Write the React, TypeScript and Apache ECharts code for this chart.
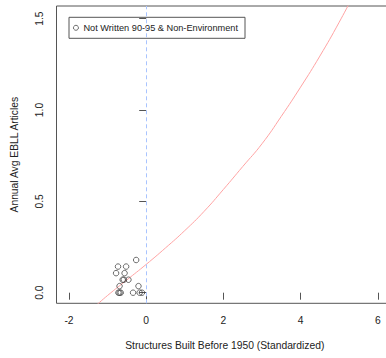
import React, { useEffect, useRef } from "react";
import * as echarts from "echarts";

const pointsX = [-0.26, -0.73, -0.52, -0.78, -0.56, -0.61, -0.58, -0.46, -0.69, -0.2, -0.72, -0.69, -0.66, -0.34, -0.17, -0.11];
const pointsY = [0.179, 0.143, 0.143, 0.107, 0.107, 0.071, 0.071, 0.071, 0.036, 0.036, 0, 0, 0, 0, 0, 0];

const curveX = [-1.3, -1.0, -0.5, 0, 0.5, 1.0, 1.5, 2.0, 2.5, 3.0, 3.5, 4.0, 4.5, 5.0, 5.5];
const curveY = [-0.07, -0.015, 0.07, 0.155, 0.245, 0.34, 0.445, 0.565, 0.69, 0.815, 0.965, 1.125, 1.295, 1.48, 1.68];

const xTicks = [-2, 0, 2, 4, 6];
const yTicks = [0, 0.5, 1.0, 1.5];
const refLineX = 0;

const seriesName = "Not Written 90-95 & Non-Environment";
const xTitle = "Structures Built Before 1950 (Standardized)";
const yTitle = "Annual Avg EBLL Articles";

const FONT = "Liberation Sans, Arial, Helvetica, sans-serif";
const TEXT = "#222";
const FRAME = "#555";
const AXIS_FS = 10.3;

export default function App() {
  const ref = useRef<HTMLDivElement>(null);
  useEffect(() => {
    document.body.style.margin = "0";
    const chart = echarts.init(ref.current!, null, { renderer: "svg" });
    chart.setOption({
      animation: false,
      backgroundColor: "#fff",
      textStyle: { fontFamily: FONT, color: TEXT },
      grid: {
        left: 56.5,
        top: 6,
        right: 7,
        bottom: 54.7,
        show: true,
        borderColor: FRAME,
        borderWidth: 1,
        containLabel: false,
      },
      legend: {
        left: 69,
        top: 17.3,
        orient: "vertical",
        data: [{ name: seriesName, icon: "circle", itemStyle: { color: "rgba(0,0,0,0)", borderColor: "#333", borderWidth: 0.9 } }],
        itemWidth: 5,
        itemHeight: 5,
        padding: [6, 7, 6, 4],
        borderColor: FRAME,
        borderWidth: 1,
        textStyle: { fontFamily: FONT, fontSize: 9.2, color: TEXT },
      },
      xAxis: {
        type: "value",
        min: -2.324,
        max: 6.395,
        splitLine: { show: false },
        axisLine: { show: false },
        axisTick: { show: true, length: 7, customValues: xTicks, lineStyle: { color: FRAME } },
        axisLabel: {
          customValues: xTicks,
          margin: 12,
          fontSize: AXIS_FS,
          color: TEXT,
          fontFamily: FONT,
          formatter: (v: number) => String(v),
        },
        name: xTitle,
        nameLocation: "middle",
        nameGap: 37.5,
        nameTextStyle: { fontSize: AXIS_FS, color: TEXT, fontFamily: FONT },
      },
      yAxis: {
        type: "value",
        min: -0.058,
        max: 1.569,
        splitLine: { show: false },
        axisLine: { show: false },
        axisTick: { show: true, length: 7, customValues: yTicks, lineStyle: { color: FRAME } },
        axisLabel: {
          customValues: yTicks,
          rotate: 90,
          margin: 12,
          fontSize: AXIS_FS,
          color: TEXT,
          fontFamily: FONT,
          formatter: (v: number) => v.toFixed(1),
        },
        name: yTitle,
        nameLocation: "middle",
        nameRotate: 90,
        nameGap: 37,
        nameTextStyle: { fontSize: AXIS_FS, color: TEXT, fontFamily: FONT },
      },
      series: [
        {
          name: "fit",
          type: "line",
          data: curveX.map((x, i) => [x, curveY[i]]),
          smooth: true,
          showSymbol: false,
          symbol: "none",
          clip: true,
          lineStyle: { color: "#ffa3a3", width: 1 },
          z: 2,
          markLine: {
            silent: true,
            symbol: ["none", "none"],
            label: { show: false },
            lineStyle: { color: "#a9c4ff", type: [4, 3], width: 1 },
            data: [{ xAxis: refLineX }],
          },
        },
        {
          name: seriesName,
          type: "scatter",
          data: pointsX.map((x, i) => [x, pointsY[i]]),
          symbol: "circle",
          symbolSize: 5.5,
          itemStyle: { color: "rgba(0,0,0,0)", borderColor: "#333", borderWidth: 0.9 },
          z: 3,
        },
      ],
    });
    return () => chart.dispose();
  }, []);
  return (
    <div style={{ width: 386, height: 358, overflow: "hidden", position: "relative" }}>
      <div ref={ref} style={{ width: 400, height: 358 }} />
    </div>
  );
}
